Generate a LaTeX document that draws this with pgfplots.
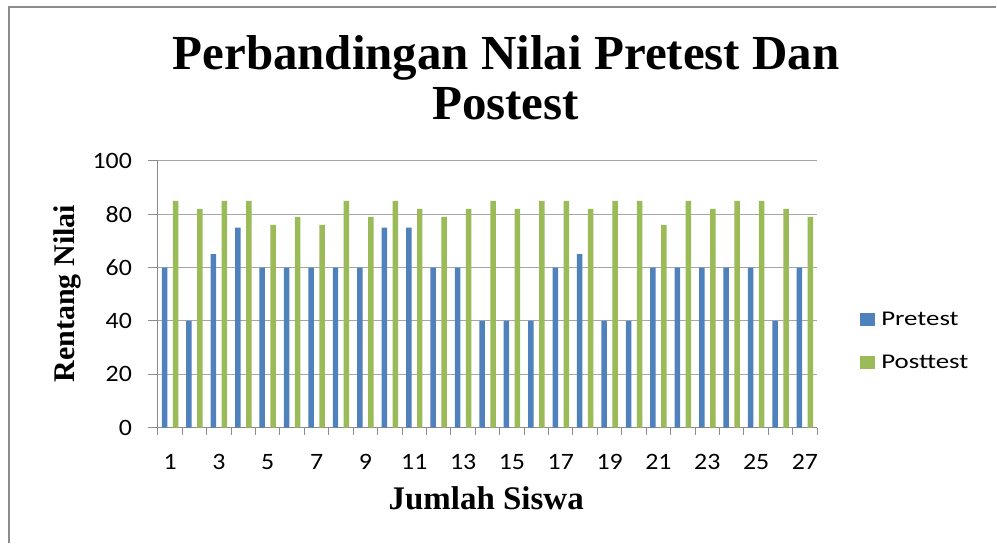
\documentclass[border=0pt]{standalone}
\usepackage{fontspec}
\setmainfont{Liberation Serif}
\newfontfamily\calib{Carlito}
\usepackage{graphicx}
\usepackage{pgfplots}
\usepackage{pgfplotstable}
\pgfplotsset{compat=1.18}
\definecolor{xlblue}{HTML}{4F81BD}
\definecolor{xlgreen}{HTML}{9BBB59}
\definecolor{gridgray}{HTML}{A6A6A6}
\definecolor{axgray}{HTML}{8C8C8C}
\pgfplotstableread{
x pre post
1 60 85
2 40 82
3 65 85
4 75 85
5 60 76
6 60 79
7 60 76
8 60 85
9 60 79
10 75 85
11 75 82
12 60 79
13 60 82
14 40 85
15 40 82
16 40 85
17 60 85
18 65 82
19 40 85
20 40 85
21 60 76
22 60 85
23 60 82
24 60 85
25 60 85
26 40 82
27 60 79
}\datatable
\begin{document}
\begin{tikzpicture}[x=1pt,y=1pt]
\path[fill=white] (0,0) rectangle (997,544);
\draw[axgray, line width=2pt] (9,0) -- (9,537) -- (997,537);
\node[anchor=base, font=\fontsize{49}{55}\selectfont\bfseries] at (506.5,474) {Perbandingan Nilai Pretest Dan};
\node[anchor=base, font=\fontsize{49}{55}\selectfont\bfseries] at (506,424) {Postest};
\begin{axis}[
  at={(158pt,116pt)}, anchor=south west,
  scale only axis, width=660pt, height=267pt,
  xmin=0.5, xmax=27.5, ymin=0, ymax=100,
  ybar, bar width=5.5pt,
  axis x line*=bottom, axis y line*=left,
  axis line style={-, draw=axgray, line width=1pt},
  ytick={0,20,...,100},
  xtick={1,3,...,27},
  minor xtick={0.5,1.5,...,27.5},
  major x tick style={draw=none},
  minor x tick style={draw=axgray, line width=1pt},
  minor tick length=7pt,
  major tick length=10pt,
  tick align=outside,
  y tick style={draw=axgray, line width=1pt},
  ymajorgrids, grid style={gridgray, line width=1pt},
  /pgf/number format/assume math mode=true,
  tick label style={font=\calib\fontsize{23.5}{27}\selectfont, xscale=1.1},
  yticklabel style={xshift=-11pt},
  xticklabel style={yshift=-13pt},
  xlabel={Jumlah Siswa},
  xlabel style={font=\fontsize{33}{38}\selectfont\bfseries, at={(axis description cs:0.498,-0.307)}, anchor=base},
  ylabel={Rentang Nilai},
  ylabel style={font=\fontsize{30}{36}\selectfont\bfseries, at={(axis description cs:-0.126,0.502)}, anchor=base, rotate=0},
  legend style={at={(axis description cs:1.06,0.324)}, anchor=west, draw=none, fill=none,
    font=\calib\fontsize{21}{25}\selectfont, row sep=24pt, nodes={xscale=1.28, inner xsep=5pt}},
  legend cell align=left,
  legend image code/.code={\fill[#1] (0pt,-6.5pt) rectangle (15pt,6.5pt);},
]
\addplot[fill=xlblue, draw=none, bar shift=-5.5pt] table[x=x, y=pre] {\datatable};
\addlegendentry{Pretest}
\addplot[fill=xlgreen, draw=none, bar shift=5.5pt] table[x=x, y=post] {\datatable};
\addlegendentry{Posttest}
\end{axis}
\end{tikzpicture}
\end{document}
